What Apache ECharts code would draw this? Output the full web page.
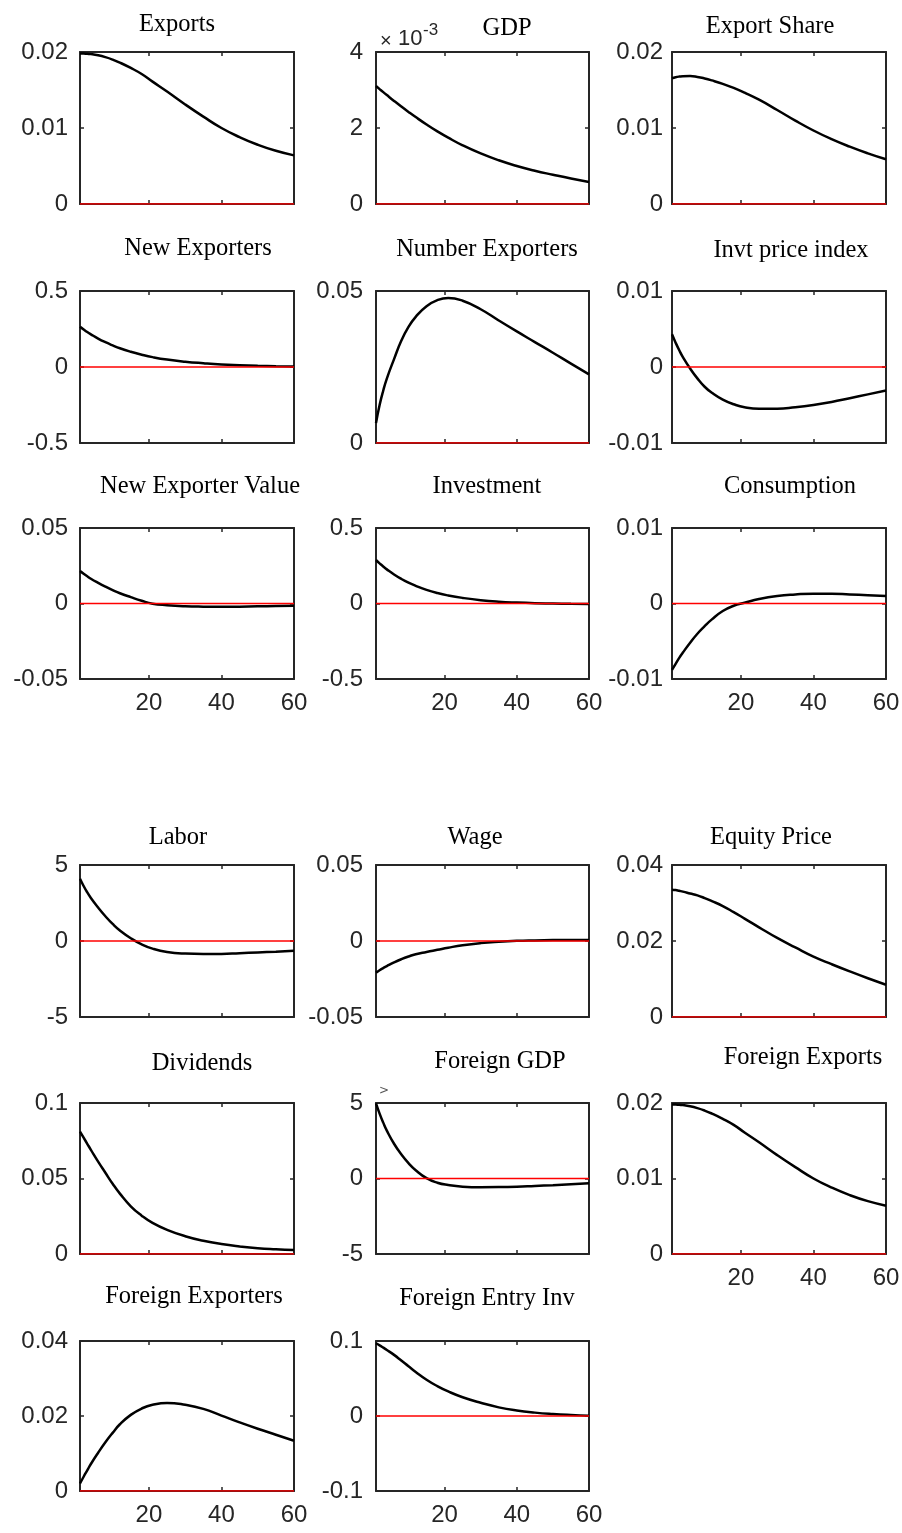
<!DOCTYPE html>
<html>
<head>
<meta charset="utf-8">
<script src="https://cdn.jsdelivr.net/npm/echarts@6/dist/echarts.min.js"></script>
<style>
html,body{margin:0;padding:0;background:#fff;}
#chart{width:902px;height:1533px;}
</style>
</head>
<body>
<div id="chart"></div>
<script>
// ---------- data ----------
const periods = [1,2,3,4,6,8,10,12,15,18,21,25,30,35,40,45,50,55,60];
const xTicks = [20, 40, 60];

const exportsV        = [.0198,.0198,.01976,.01972,.01956,.01932,.0190,.0186,.0179,.0171,.0161,.0148,.0131,.0115,.0100,.0088,.0078,.0070,.0064];
const gdpV            = [.003105,.003024,.002944,.002866,.002713,.002565,.002423,.002287,.002093,.001912,.001746,.001544,.00133,.00115,.0010,.000875,.00077,.00067,.00058];
const exportShareV    = [.01654,.01668,.01677,.01682,.01683,.01672,.01652,.01626,.01581,.01528,.01465,.01372,.01237,.01097,.00967,.00853,.00754,.00666,.00588];
const newExportersV   = [.265,.247,.230,.215,.187,.163,.142,.123,.100,.081,.065,.049,.035,.025,.017,.012,.008,.005,.003];
const numExportersV   = [.0066,.0125,.0172,.0212,.0276,.0336,.0382,.0415,.0450,.0470,.0477,.0468,.0440,.0403,.0367,.0332,.0297,.0261,.0226];
const invtPriceV      = [.0043,.0032,.0022,.0013,-.0002,-.0015,-.0026,-.0034,-.0043,-.0049,-.0053,-.0055,-.0055,-.0053,-.0050,-.0046,-.0041,-.0036,-.0031];
const newExpValueV    = [.0215,.0197,.0180,.0164,.0137,.0112,.0089,.0068,.0042,.0018,-.0001,-.0011,-.0018,-.0021,-.0022,-.0021,-.0019,-.0017,-.0015];
const investmentV     = [.288,.266,.245,.226,.192,.163,.138,.117,.090,.069,.053,.037,.022,.012,.006,.002,.000,-.002,-.003];
const consumptionV    = [-.0088,-.0080,-.0072,-.0065,-.0052,-.0040,-.0030,-.0021,-.0010,-.0003,.0001,.0006,.0010,.0012,.0013,.0013,.0012,.0011,.0010];
const laborV          = [4.1,3.62,3.2,2.83,2.2,1.63,1.12,0.69,0.18,-0.22,-0.5,-0.72,-0.83,-0.86,-0.85,-0.80,-0.75,-0.70,-0.64];
const wageV           = [-.0208,-.0192,-.0178,-.0165,-.0141,-.0120,-.0102,-.0087,-.0072,-.0058,-.0044,-.0028,-.0014,-.0005,.0001,.0004,.0006,.0007,.0007];
const equityV         = [.0335,.0334,.0332,.0330,.0325,.0320,.0313,.0305,.0292,.0276,.0259,.0236,.0208,.0183,.0159,.0139,.0120,.0102,.0085];
const dividendsV      = [.081,.077,.073,.069,.0612,.0538,.0465,.0400,.0316,.0254,.0206,.0160,.0118,.0088,.0066,.0050,.0038,.0031,.0026];
const foreignGdpV     = [4.98,4.3,3.7,3.17,2.3,1.6,1.02,0.55,0.02,-0.28,-0.43,-0.54,-0.58,-0.57,-0.54,-0.49,-0.44,-0.38,-0.32];
const foreignExportsV = [.0198,.0198,.01976,.01972,.01956,.01932,.0190,.0186,.0179,.0171,.0161,.0148,.0131,.0115,.0100,.0088,.0078,.0070,.0064];
const foreignExpersV  = [.002,.0038,.0055,.0072,.0102,.0130,.0155,.0178,.0203,.0220,.0230,.0235,.0230,.0219,.0201,.0183,.0166,.0150,.0134];
const foreignEntryV   = [.097,.0942,.0912,.0881,.0815,.0740,.0663,.0587,.0483,.0398,.0327,.0250,.0176,.0115,.0073,.0045,.0026,.0013,.0004];

const titles = ['Exports','GDP','Export Share','New Exporters','Number Exporters','Invt price index',
  'New Exporter Value','Investment','Consumption','Labor','Wage','Equity Price',
  'Dividends','Foreign GDP','Foreign Exports','Foreign Exporters','Foreign Entry Inv'];
const seriesValues = [exportsV,gdpV,exportShareV,newExportersV,numExportersV,invtPriceV,
  newExpValueV,investmentV,consumptionV,laborV,wageV,equityV,
  dividendsV,foreignGdpV,foreignExportsV,foreignExpersV,foreignEntryV];
const yTicks = [
  [0,0.01,0.02],[0,0.002,0.004],[0,0.01,0.02],
  [-0.5,0,0.5],[0,0.05],[-0.01,0,0.01],
  [-0.05,0,0.05],[-0.5,0,0.5],[-0.01,0,0.01],
  [-5,0,5],[-0.05,0,0.05],[0,0.02,0.04],
  [0,0.05,0.1],[-5,0,5],[0,0.01,0.02],
  [0,0.02,0.04],[-0.1,0,0.1]
];
const gdpScale = 1e-3;

// ---------- layout ----------
const colLeft = [80, 376, 672], colWidth = [214, 213, 214];
const rowTop = [52, 291, 528, 865, 1103, 1341], rowHeight = [152, 152, 151, 152, 151, 150];
const labelMargin = [12, 13, 9];
const titlePos = [[177,25],[507,29],[770,26.5],[198,249],[487,250],[791,250.5],
  [200,486.5],[487,486.5],[790,486.5],[178,838],[475,838],[771,838],
  [202,1064],[500,1062],[803,1058],[194,1297],[487,1298.5]];
const withXLabels = [6,7,8,14,15,16];

const AX = '#262626';
const grids = [], xAxes = [], yAxes = [], series = [], graphics = [];

titles.forEach((t, i) => {
  let row, col;
  if (i < 9) { row = Math.floor(i/3); col = i % 3; }
  else { row = 3 + Math.floor((i-9)/3); col = (i-9) % 3; }
  grids.push({left: colLeft[col], top: rowTop[row], width: colWidth[col], height: rowHeight[row],
    outerBoundsMode: 'none', containLabel: false});
  const ticks = yTicks[i];
  const ymin = ticks[0], ymax = ticks[ticks.length-1];
  const isGdp = (i === 1);
  const fmt = v => isGdp ? String(Math.round(v / gdpScale)) : String(+(+v).toPrecision(6));
  const tickStyle = {show: true, inside: true, length: 4, lineStyle: {color: AX, width: 1.5}};
  const lineStyle = {show: true, onZero: false, lineStyle: {color: AX, width: 2}};
  const labelFont = {color: AX, fontFamily: 'Liberation Sans', fontSize: 24};
  xAxes.push({type: 'value', gridIndex: i, position: 'bottom', min: 1, max: 60,
    axisLine: lineStyle, splitLine: {show: false},
    axisTick: Object.assign({customValues: xTicks}, tickStyle),
    axisLabel: Object.assign({show: withXLabels.includes(i), customValues: xTicks, margin: 12,
      formatter: v => String(v)}, labelFont)});
  xAxes.push({type: 'value', gridIndex: i, position: 'top', min: 1, max: 60,
    axisLine: lineStyle, splitLine: {show: false},
    axisTick: Object.assign({customValues: xTicks}, tickStyle),
    axisLabel: {show: false}});
  yAxes.push({type: 'value', gridIndex: i, position: 'left', min: ymin, max: ymax,
    axisLine: lineStyle, splitLine: {show: false},
    axisTick: Object.assign({customValues: ticks}, tickStyle),
    axisLabel: Object.assign({show: true, customValues: ticks, margin: labelMargin[col],
      formatter: fmt}, labelFont)});
  yAxes.push({type: 'value', gridIndex: i, position: 'right', min: ymin, max: ymax,
    axisLine: lineStyle, splitLine: {show: false},
    axisTick: Object.assign({customValues: ticks}, tickStyle),
    axisLabel: {show: false}});
  series.push({type: 'line', xAxisIndex: 2*i, yAxisIndex: 2*i, showSymbol: false,
    smooth: 0.5, clip: true, z: 3,
    lineStyle: {color: '#000', width: 2.5},
    data: periods.map((p, k) => [p, seriesValues[i][k]])});
  series.push({type: 'line', xAxisIndex: 2*i, yAxisIndex: 2*i, showSymbol: false, z: 4,
    lineStyle: {color: '#ff0000', width: 1.3},
    data: [[1, 0], [60, 0]]});
  graphics.push({type: 'text', silent: true, style: {text: t, x: titlePos[i][0], y: titlePos[i][1],
    align: 'center', verticalAlign: 'middle', textAlign: 'center', textVerticalAlign: 'middle',
    fill: '#000', fontFamily: 'Liberation Serif', fontSize: 24.5}});
});

// exponent label of the GDP panel
graphics.push({type: 'text', silent: true, style: {text: '×', x: 380, y: 41.5, align: 'left', verticalAlign: 'middle',
  fill: AX, fontFamily: 'Liberation Sans', fontSize: 20}});
graphics.push({type: 'text', silent: true, style: {text: '10', x: 398, y: 39, align: 'left', verticalAlign: 'middle',
  fill: AX, fontFamily: 'Liberation Sans', fontSize: 22}});
graphics.push({type: 'text', silent: true, style: {text: '-3', x: 423, y: 30, align: 'left', verticalAlign: 'middle',
  fill: AX, fontFamily: 'Liberation Sans', fontSize: 17}});
// small clipped marker above Foreign GDP panel
graphics.push({type: 'text', silent: true, style: {text: '>', x: 379, y: 1091, align: 'left', verticalAlign: 'middle',
  fill: '#555', fontFamily: 'DejaVu Sans ExtraLight, DejaVu Sans', fontSize: 12}});

const chart = echarts.init(document.getElementById('chart'), null, {renderer: 'canvas'});
chart.setOption({
  animation: false,
  backgroundColor: '#fff',
  grid: grids, xAxis: xAxes, yAxis: yAxes, series: series,
  graphic: graphics
});
</script>
</body>
</html>
